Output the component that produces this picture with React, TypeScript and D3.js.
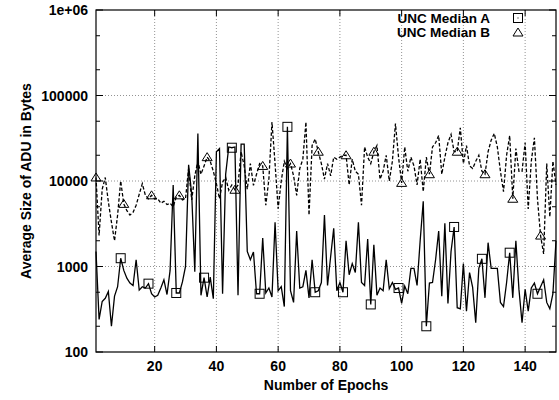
import * as d3 from "d3";

// median ADU size per epoch (epoch = index + 1)
const medianA = [
  1500, 240, 390, 425, 510, 200, 450, 580, 1250, 900,
  730, 640, 600, 1200, 530, 580, 560, 630, 480, 440,
  460, 560, 700, 470, 900, 9000, 490, 490, 660, 1000,
  15500, 7000, 870, 36000, 460, 740, 440, 750, 420, 22000,
  24000, 480, 12000, 25000, 24500, 25000, 460, 27000, 27000, 1500,
  1200, 1480, 480, 480, 2150, 490, 560, 440, 3300, 520,
  580, 340, 43000, 520, 380, 2600, 560, 580, 900, 430,
  1200, 500, 520, 650, 4000, 600, 1300, 2800, 520, 650,
  500, 2000, 800, 1080, 850, 3300, 650, 600, 2100, 360,
  1800, 460, 560, 520, 1200, 550, 650, 540, 560, 370,
  590, 480, 950, 950, 600, 2000, 5800, 200, 640, 650,
  1200, 2600, 450, 3200, 370, 1500, 2900, 330, 320, 1080,
  300, 850, 570, 220, 950, 1230, 430, 1900, 950, 950,
  950, 380, 340, 650, 1450, 430, 2000, 540, 220, 540,
  300, 560, 640, 480, 580, 700, 380, 320, 480, 2000,
];

const medianB = [
  11000, 2300, 8000, 11000, 5700, 3300, 2000, 4000, 10000, 5400,
  4500, 4000, 4300, 5200, 7000, 9300, 6800, 6200, 6800, 6200,
  6200, 5500, 5800, 5300, 5500, 5000, 6500, 6800, 6000, 6200,
  14000, 6000, 11500, 17000, 12000, 15000, 19000, 17000, 13000, 9300,
  6200, 9700, 11000, 7800, 9000, 7900, 9000, 22000, 15000, 8000,
  16000, 8900, 12000, 16000, 15000, 5200, 10500, 49000, 16000, 4750,
  10000, 17000, 14000, 16000, 11500, 6800, 14000, 18000, 49000, 4000,
  26000, 31000, 22000, 16000, 10500, 16000, 11500, 19000, 18000, 19000,
  20000, 20000, 9000, 18000, 13000, 12000, 5200, 25000, 19000, 16000,
  22000, 26000, 10500, 13000, 20000, 10000, 17000, 47000, 19000, 9500,
  25000, 13000, 19000, 15000, 9000, 18000, 7500, 19000, 12000, 25000,
  28000, 34000, 12000, 19000, 28000, 35000, 22000, 22000, 42000, 16000,
  26000, 15000, 14000, 17000, 20000, 13000, 12000, 22000, 30000, 36000,
  25000, 13000, 7500, 20000, 34000, 6200, 24000, 13000, 13000, 28000,
  4700, 17000, 32000, 6200, 2300, 1400, 16000, 3800, 17000, 9000,
];

const xTicks = [20, 40, 60, 80, 100, 120, 140];
const yTicks = [100, 1000, 10000, 100000, 1000000];
const yTickLabels = ["100", "1000", "10000", "100000", "1e+06"];
const yMinor = [200, 500, 2000, 5000, 20000, 50000, 200000, 500000];
const seriesNames = ["UNC Median A", "UNC Median B"];

const W = 559;
const H = 400;
const margin = { top: 10, right: 3, bottom: 48, left: 96 };
const font = "'Liberation Sans', Arial, sans-serif";
const fs = 14;

const App = () => {
  const innerW = W - margin.left - margin.right;
  const innerH = H - margin.top - margin.bottom;

  const x = d3.scaleLinear().domain([1, 150]).range([0, innerW]);
  const y = d3.scaleLog().domain([100, 1000000]).range([innerH, 0]);

  const line = d3.line<number>().x((d, i) => x(i + 1)).y(d => y(d));

  const squares = medianA
    .map((v, i) => ({ v, e: i + 1 }))
    .filter(d => d.e % 9 === 0);
  const triangles = medianB
    .map((v, i) => ({ v, e: i + 1 }))
    .filter(d => (d.e - 1) % 9 === 0);

  const tri = (cx: number, cy: number) =>
    `M${cx},${cy - 4.5}L${cx + 5},${cy + 3.5}L${cx - 5},${cy + 3.5}Z`;

  return (
    <div style={{ position: "fixed", left: 0, top: 0 }}>
      <svg width={W} height={H} style={{ display: "block", background: "#fff" }}>
        <g transform={`translate(${margin.left},${margin.top})`}>
          {/* grid */}
          {xTicks.map(t => (
            <line key={"gx" + t} x1={x(t)} x2={x(t)} y1={0} y2={innerH}
              stroke="#777" strokeWidth={0.8} strokeDasharray="1,2" />
          ))}
          {yTicks.slice(1, -1).map(t => (
            <line key={"gy" + t} x1={0} x2={innerW} y1={y(t)} y2={y(t)}
              stroke="#777" strokeWidth={0.8} strokeDasharray="1,2" />
          ))}

          {/* ticks */}
          {xTicks.map(t => (
            <g key={"tx" + t}>
              <line x1={x(t)} x2={x(t)} y1={innerH} y2={innerH - 6} stroke="#000" />
              <line x1={x(t)} x2={x(t)} y1={0} y2={6} stroke="#000" />
            </g>
          ))}
          {yTicks.map(t => (
            <g key={"ty" + t}>
              <line x1={0} x2={7} y1={y(t)} y2={y(t)} stroke="#000" />
              <line x1={innerW} x2={innerW - 7} y1={y(t)} y2={y(t)} stroke="#000" />
            </g>
          ))}
          {yMinor.map(t => (
            <g key={"tm" + t}>
              <line x1={0} x2={4} y1={y(t)} y2={y(t)} stroke="#000" />
              <line x1={innerW} x2={innerW - 4} y1={y(t)} y2={y(t)} stroke="#000" />
            </g>
          ))}

          {/* series */}
          <path d={line(medianA) ?? ""} fill="none" stroke="#000" strokeWidth={1.3} />
          <path d={line(medianB) ?? ""} fill="none" stroke="#000" strokeWidth={1.3}
            strokeDasharray="3.5,2" />

          {squares.map(d => (
            <rect key={"sq" + d.e} x={x(d.e) - 4.5} y={y(d.v) - 4.5} width={9} height={9}
              fill="none" stroke="#000" strokeWidth={1} />
          ))}
          {triangles.map(d => (
            <path key={"tr" + d.e} d={tri(x(d.e), y(d.v))} fill="none" stroke="#000" strokeWidth={1} />
          ))}

          {/* frame */}
          <rect x={0} y={0} width={innerW} height={innerH} fill="none" stroke="#000" strokeWidth={1.2} />

          {/* tick labels */}
          {xTicks.map(t => (
            <text key={"lx" + t} x={x(t)} y={innerH + 19} textAnchor="middle"
              fontFamily={font} fontWeight="bold" fontSize={fs}>{t}</text>
          ))}
          {yTicks.map((t, i) => (
            <text key={"ly" + t} x={-8} y={y(t) + 5} textAnchor="end"
              fontFamily={font} fontWeight="bold" fontSize={fs}>{yTickLabels[i]}</text>
          ))}

          {/* legend */}
          {seriesNames.map((name, i) => (
            <text key={name} x={394} y={13 + i * 14} textAnchor="end"
              fontFamily={font} fontWeight="bold" fontSize={13.5}>{name}</text>
          ))}
          <rect x={422 - 4.5} y={8 - 4.5} width={9} height={9} fill="none" stroke="#000" />
          <rect x={421.5} y={7.5} width={1} height={1} fill="#000" />
          <path d={tri(422, 22.5)} fill="none" stroke="#000" />
        </g>

        <text x={margin.left + innerW / 2} y={390} textAnchor="middle"
          fontFamily={font} fontWeight="bold" fontSize={fs}>Number of Epochs</text>
        <text transform={`translate(31,${margin.top + innerH / 2}) rotate(-90)`} textAnchor="middle"
          fontFamily={font} fontWeight="bold" fontSize={fs}>Average Size of ADU in Bytes</text>
      </svg>
    </div>
  );
};

export default App;
